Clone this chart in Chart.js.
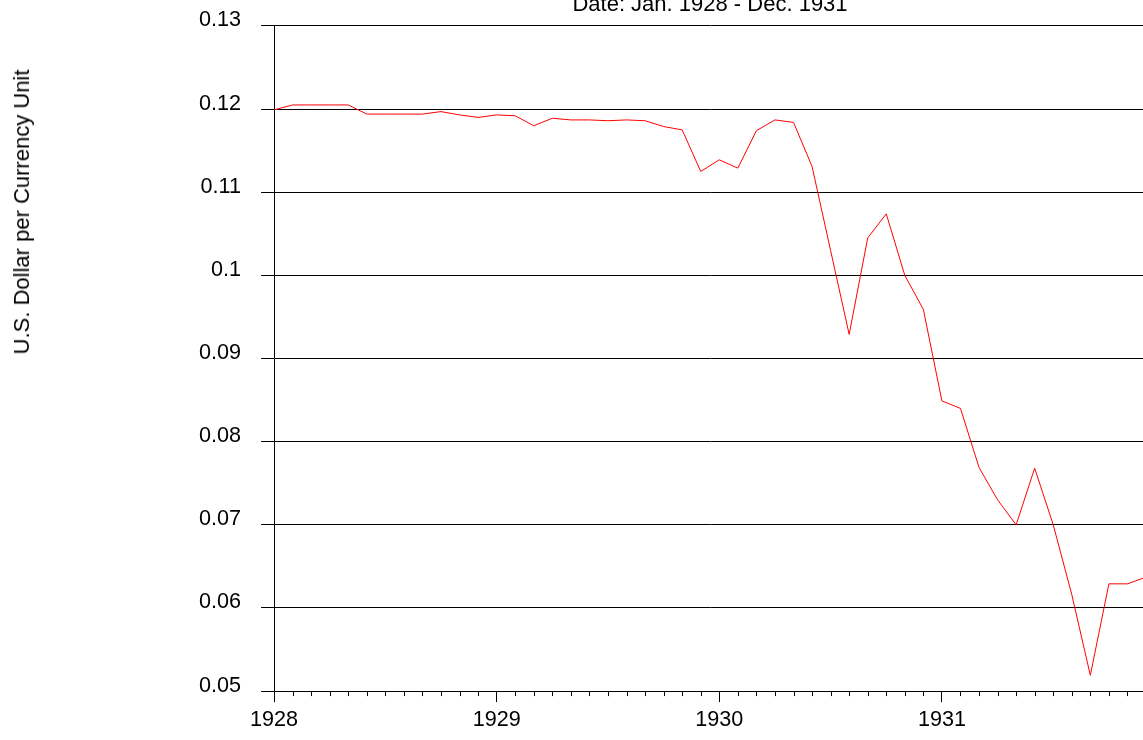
<!DOCTYPE html>
<html>
<head>
<meta charset="utf-8">
<script src="https://cdn.jsdelivr.net/npm/chart.js@4.4.1/dist/chart.umd.min.js"></script>
<style>
  html, body { margin: 0; padding: 0; background: #fff; overflow: hidden; }
  body { width: 1143px; height: 740px; position: relative; font-family: 'Liberation Sans', Arial, sans-serif; }
  #wrap { position: absolute; left: 0; top: -7px; width: 1146px; height: 747px; }
  .title { position: absolute; left: 710px; top: -7px; transform: translateX(-50%);
           font-size: 22px; line-height: 22px; white-space: nowrap; color: #000; }
  .ytitle { position: absolute; left: 21.5px; top: 211.5px; transform: translate(-50%, -50%) rotate(-90deg);
            font-size: 22px; line-height: 22px; white-space: nowrap; color: #000; }
</style>
</head>
<body>
<div id="wrap"><canvas id="chart"></canvas></div>
<div class="title">Date: Jan. 1928 - Dec. 1931</div>
<div class="ytitle">U.S. Dollar per Currency Unit</div>
<script>
// monthly rates, U.S. dollar per currency unit
const rate1928 = [0.1199, 0.1205, 0.1205, 0.1205, 0.1205, 0.1194, 0.1194, 0.1194, 0.1194, 0.1197, 0.1193, 0.1190];
const rate1929 = [0.1193, 0.1192, 0.1180, 0.1189, 0.1187, 0.1187, 0.1186, 0.1187, 0.1186, 0.1179, 0.1175, 0.1125];
const rate1930 = [0.1139, 0.1129, 0.1174, 0.1187, 0.1184, 0.1131, 0.1030, 0.0929, 0.1045, 0.1074, 0.1000, 0.0959];
const rate1931 = [0.0849, 0.0840, 0.0769, 0.0730, 0.0700, 0.0768, 0.0700, 0.0616, 0.0519, 0.0629, 0.0629, 0.0637];

const years = ['1928', '1929', '1930', '1931'];
const yTicks = [0.05, 0.06, 0.07, 0.08, 0.09, 0.10, 0.11, 0.12, 0.13];

const rates = [...rate1928, ...rate1929, ...rate1930, ...rate1931];
const points = rates.map((v, i) => ({ x: i, y: v }));

const FONT = { family: "'Liberation Sans', Arial, sans-serif", size: 21.6 };

// short monthly ticks between the year ticks
const minorTicks = {
  id: 'minorTicks',
  afterDraw(chart) {
    const sx = chart.scales.x;
    const ctx = chart.ctx;
    const bottom = chart.chartArea.bottom;
    ctx.save();
    ctx.strokeStyle = '#000';
    ctx.lineWidth = 1;
    ctx.beginPath();
    for (let m = 0; m < rates.length; m++) {
      if (m % 12 === 0) continue;
      const x = Math.round(sx.getPixelForValue(m)) + 0.5;
      ctx.moveTo(x, bottom);
      ctx.lineTo(x, bottom + 5);
    }
    ctx.stroke();
    ctx.restore();
  }
};

new Chart(document.getElementById('chart'), {
  type: 'line',
  data: {
    datasets: [{
      data: points,
      borderColor: '#ff0000',
      borderWidth: 1,
      pointRadius: 0,
      tension: 0,
      fill: false,
    }]
  },
  options: {
    responsive: true,
    maintainAspectRatio: false,
    animation: false,
    layout: { padding: { left: 179, top: 18, right: 0, bottom: 2 } },
    plugins: { legend: { display: false }, tooltip: { enabled: false }, title: { display: false } },
    scales: {
      x: {
        type: 'linear',
        min: 0,
        max: rates.length - 1,
        afterBuildTicks: s => { s.ticks = years.map((_, i) => ({ value: i * 12 })); },
        grid: { drawOnChartArea: false, drawTicks: true, tickLength: 11, color: '#000' },
        border: { display: true, color: '#000' },
        ticks: {
          color: '#000', font: FONT, padding: 5, maxRotation: 0, autoSkip: false,
          callback: v => years[v / 12]
        }
      },
      y: {
        min: 0.05,
        max: 0.13,
        afterBuildTicks: s => { s.ticks = yTicks.map(v => ({ value: v })); },
        grid: { color: '#000', tickLength: 13 },
        border: { display: true, color: '#000' },
        ticks: { color: '#000', font: FONT, padding: 20, labelOffset: -5.5, callback: v => String(+v.toFixed(2)) }
      }
    }
  },
  plugins: [minorTicks]
});
</script>
</body>
</html>
